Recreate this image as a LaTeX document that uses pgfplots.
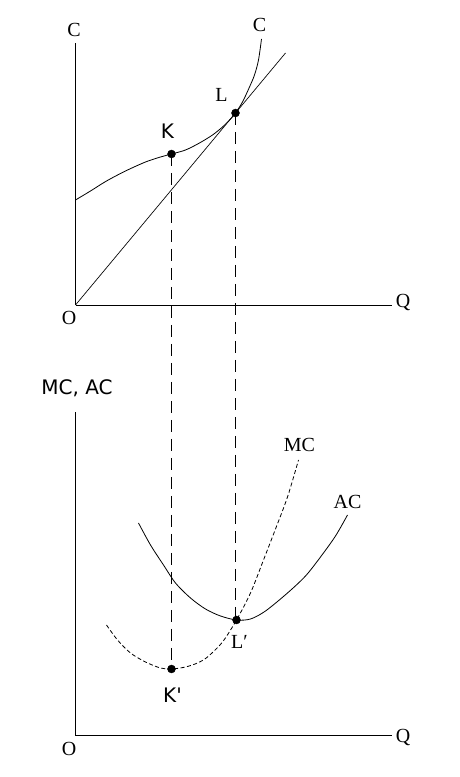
\documentclass[border=0pt]{standalone}
\usepackage{pgfplots}
\pgfplotsset{compat=1.18}
\usepackage{fontspec}
\setmainfont{Liberation Serif}
\newfontfamily\sansf{DejaVu Sans}
\newcommand{\lab}{\fontsize{20}{22}\selectfont}
\newcommand{\slab}{\sansf\fontsize{20}{22}\selectfont}
\begin{document}
\begin{tikzpicture}
\useasboundingbox (0pt,0pt) rectangle (459pt,777pt);
% ---------- top: total cost ----------
\begin{axis}[at={(75.5pt,472pt)}, anchor=south west, scale only axis,
  width=316.5pt, height=262pt, xmin=0, xmax=316.5, ymin=0, ymax=262,
  axis lines=left, axis line style={-, line width=0.8pt},
  xtick=\empty, ytick=\empty, clip=false]
\addplot[black, line width=0.8pt, smooth] coordinates {
 (0,105) (15,114) (31,124) (50,134) (70,143) (85,148) (96,151) (110,155)
 (124,162) (137,170) (147,178) (155,186) (160,192) (167,203) (174,218)
 (179,230) (183,245) (186,266)};
\addplot[black, line width=0.7pt] coordinates {(0,0) (210,252)};
\addplot[black, line width=0.8pt, dash pattern=on 12pt off 7pt] coordinates {(96,151) (96,-364)};
\addplot[black, line width=0.8pt, dash pattern=on 12pt off 7pt] coordinates {(160,192) (160,-315)};
\addplot[black, only marks, mark=*, mark size=4pt] coordinates {(96,151) (160,192)};
\node[font=\lab] at (axis cs:-1.5,275) {C};
\node[font=\lab] at (axis cs:184,280) {C};
\node[font=\lab] at (axis cs:-6.5,-13) {O};
\node[font=\lab] at (axis cs:327.5,2) {Q};
\node[font=\lab] at (axis cs:146,210) {L};
\node[font=\slab] at (axis cs:92,174) {K};
\end{axis}
% ---------- bottom: MC and AC ----------
\begin{axis}[at={(75.5pt,42pt)}, anchor=south west, scale only axis,
  width=316.5pt, height=323pt, xmin=0, xmax=316.5, ymin=0, ymax=323,
  axis lines=left, axis line style={-, line width=0.8pt},
  xtick=\empty, ytick=\empty, clip=false]
\addplot[black, line width=0.8pt, smooth] coordinates {
 (63,212) (75,190) (88,170) (100,152) (115,137) (130,126) (145,119)
 (161,115) (175,116) (190,124) (212,142) (230,159) (245,178) (260,199) (272,220)};
\addplot[black, line width=0.8pt, smooth, dash pattern=on 4pt off 2.5pt] coordinates {
 (31,110) (42,95) (55,82) (70,73) (85,67) (96,66) (110,68) (122,72)
 (132,78) (147,93) (161,115) (175,142) (188,175) (200,206) (212,238) (223,275)};
\addplot[black, only marks, mark=*, mark size=4pt] coordinates {(96,66) (161,115)};
\node[font=\slab] at (axis cs:1.5,347) {MC, AC};
\node[font=\lab] at (axis cs:224,290) {MC};
\node[font=\lab] at (axis cs:272,233) {AC};
\node[font=\lab] at (axis cs:164,93) {L′};
\node[font=\slab] at (axis cs:97,40) {K'};
\node[font=\lab] at (axis cs:-6.5,-14) {O};
\node[font=\lab] at (axis cs:327.5,-2) {Q};
\end{axis}
\end{tikzpicture}
\end{document}
